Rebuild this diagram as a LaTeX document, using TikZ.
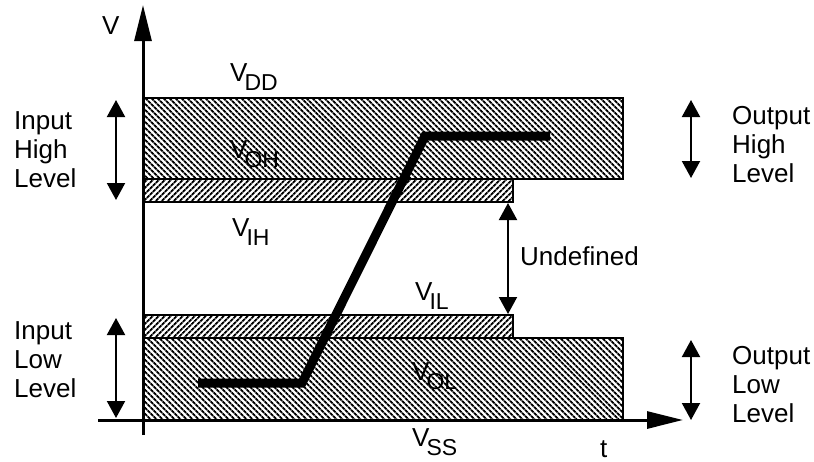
\documentclass[tikz,border=0pt]{standalone}
\usepackage{fontspec}
\setmainfont{Liberation Sans}
\usetikzlibrary{patterns.meta,arrows.meta}
\newcommand\vlab[1]{V\kern-3pt\raisebox{-9pt}{\fontsize{23}{23}\selectfont #1}}
\begin{document}
\begin{tikzpicture}[x=1pt,y=-1pt,
  lbl/.style={inner sep=0pt,anchor=base west,font=\fontsize{26}{29}\selectfont},
  multi/.style={lbl,align=left},
  hatchA/.style={draw,line width=2.5pt,pattern={Lines[angle=-45,distance=4pt,line width=2pt]},pattern color=black},
  hatchB/.style={draw,line width=2.5pt,pattern={Lines[angle=45,distance=4pt,line width=2pt]},pattern color=black},
  axis/.style={line width=3pt,-{Triangle[length=36pt,width=17pt]}},
  dbl/.style={line width=2pt,{Triangle[length=17pt,width=18pt]}-{Triangle[length=17pt,width=18pt]}},
  signal/.style={line width=9pt}]
\useasboundingbox (0,0) rectangle (814,461);
% bands
\draw[hatchA] (143,98) rectangle (623,179);
\draw[hatchB] (143,179) rectangle (513,202);
\draw[hatchB] (143,315) rectangle (513,338);
\draw[hatchA] (143,338) rectangle (623,420);
% axes
\coordinate (yb) at (143,435);
\coordinate (yt) at (143,5);
\coordinate (xl) at (98,420);
\coordinate (xr) at (683,420);
\draw[axis] (yb) -- (yt);
\draw[axis] (xl) -- (xr);
% signal
\coordinate (s0) at (198,383);
\coordinate (s1) at (302,383);
\coordinate (s2) at (425,136);
\coordinate (s3) at (550,136);
\draw[signal] (s0) -- (s1) -- (s2) -- (s3);
% double arrows
\coordinate (ih1) at (116,100); \coordinate (ih2) at (116,200);
\coordinate (il1) at (116,318); \coordinate (il2) at (116,418);
\coordinate (oh1) at (691,100); \coordinate (oh2) at (691,178);
\coordinate (ol1) at (691,340); \coordinate (ol2) at (691,420);
\coordinate (u1) at (508,203); \coordinate (u2) at (508,314);
\draw[dbl] (ih1) -- (ih2);
\draw[dbl] (il1) -- (il2);
\draw[dbl] (oh1) -- (oh2);
\draw[dbl] (ol1) -- (ol2);
\draw[dbl] (u1) -- (u2);
% labels
\node[lbl] (v) at (102,34) {V};
\node[lbl] (vdd) at (230,81) {\vlab{DD}};
\node[lbl] (voh) at (230,158) {\vlab{OH}};
\node[lbl] (vih) at (232,236) {\vlab{IH}};
\node[lbl] (vil) at (415,300) {\vlab{IL}};
\node[lbl] (vol) at (412,380) {\vlab{OL}};
\node[lbl] (vss) at (412,446) {\vlab{SS}};
\node[lbl] (t) at (600,457) {t};
\node[lbl] (und) at (520,265) {Undefined};
\node[multi] (inh) at (14,187) {Input\\High\\Level};
\node[multi] (inl) at (14,397) {Input\\Low\\Level};
\node[multi] (outh) at (732,182) {Output\\High\\Level};
\node[multi] (outl) at (732,422) {Output\\Low\\Level};
\end{tikzpicture}
\end{document}
